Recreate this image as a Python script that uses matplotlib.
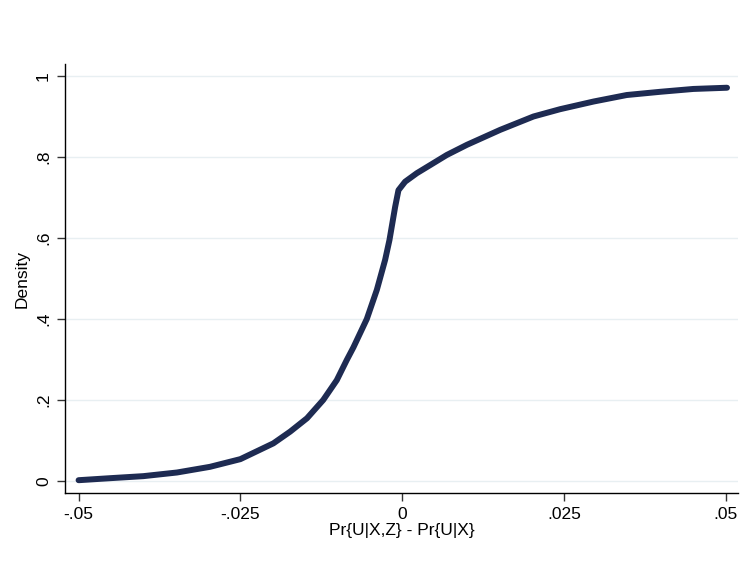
import matplotlib
matplotlib.use("Agg")
import matplotlib.pyplot as plt

# Data
diff = [-0.0500, -0.0451, -0.0400, -0.0348, -0.0297, -0.0250, -0.0199, -0.0173,
        -0.0147, -0.0122, -0.0101, -0.00855, -0.00753, -0.00546, -0.00391, -0.00263,
        -0.00196, -0.00108, -0.00057, 0.00046, 0.00227, 0.00433, 0.0069,
        0.0100, 0.01515, 0.0203, 0.0244, 0.0296, 0.0347, 0.0399, 0.0450, 0.0502]
density = [0.002, 0.007, 0.012, 0.021, 0.035, 0.054, 0.093, 0.122,
           0.155, 0.200, 0.249, 0.299, 0.330, 0.400, 0.472, 0.546,
           0.595, 0.677, 0.718, 0.739, 0.760, 0.780, 0.805,
           0.830, 0.867, 0.900, 0.918, 0.937, 0.953, 0.961, 0.968, 0.971]

xticks = [-0.05, -0.025, 0, 0.025, 0.05]
xtick_labels = ["-.05", "-.025", "0", ".025", ".05"]
yticks = [0, 0.2, 0.4, 0.6, 0.8, 1.0]
ytick_labels = ["0", ".2", ".4", ".6", ".8", "1"]

plt.rcParams['font.family'] = ['Liberation Sans', 'DejaVu Sans']

fig = plt.figure(figsize=(7.52, 5.75), dpi=100)
ax = fig.add_axes([65/752, 82/575, (738-65)/752, (493-64)/575])

ax.plot(diff, density, color='#1e2b52', lw=4.3, solid_capstyle='round',
        solid_joinstyle='round', zorder=3)

ax.set_xlim(-0.0521, 0.0519)
ax.set_ylim(-0.0296, 1.0296)

ax.set_xticks(xticks)
ax.set_xticklabels(xtick_labels, fontsize=12.5)
ax.set_yticks(yticks)
ax.set_yticklabels(ytick_labels, fontsize=12.5, rotation=90, va='center')

ax.grid(axis='y', color='#e8eff2', lw=1.0, zorder=0)
ax.set_axisbelow(True)

for s in ['top', 'right']:
    ax.spines[s].set_visible(False)
for s in ['left', 'bottom']:
    ax.spines[s].set_linewidth(1.0)
    ax.spines[s].set_color('black')

ax.tick_params(axis='both', length=6, width=1.0, color='#333333', pad=4)

ax.set_xlabel("Pr{U|X,Z} - Pr{U|X}", fontsize=12.5, labelpad=1)
ax.set_ylabel("Density", fontsize=12.5, labelpad=5)

fig.savefig("out.png", dpi=100, facecolor='white')
